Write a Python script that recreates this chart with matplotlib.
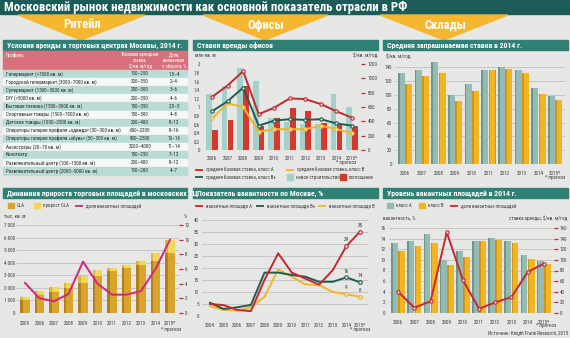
import matplotlib
matplotlib.use("Agg")
import matplotlib.pyplot as plt
from matplotlib import font_manager
from matplotlib.patches import Rectangle, Polygon
import numpy as np

W, H = 570, 338

_names = {f.name for f in font_manager.fontManager.ttflist}
NARROW = next((n for n in ["Liberation Sans Narrow", "Roboto Condensed", "Liberation Sans", "Roboto"]
               if n in _names), "DejaVu Sans")
plt.rcParams["font.family"] = [NARROW, "DejaVu Sans"]

# ---- data -------------------------------------------------------------
title = "Московский рынок недвижимости как основной показатель отрасли в РФ"
sections = ["Ритейл", "Офисы", "Склады"]

retail_profiles = [
    "Гипермаркет (>7000 кв. м)",
    "Городской гипермаркет (3000–7000 кв. м)",
    "Супермаркет (1500–3000 кв. м)",
    "DIY (>5000 кв. м)",
    "Бытовая техника (1500–3000 кв. м)",
    "Спортивные товары (1500–7000 кв. м)",
    "Детские товары (1000–2500 кв. м)",
    "Операторы галереи профиля «одежда» (50–300 кв. м)",
    "Операторы галереи профиля «обувь» (50–300 кв. м)",
    "Аксессуары (20–70 кв. м)",
    "Кинотеатр",
    "Развлекательный центр (100–1500 кв. м)",
    "Развлекательный центр (2000–5000 кв. м)",
]
retail_rates = ["100–250", "200–350", "250–300", "200–350", "150–350", "150–300", "200–400",
                "600–2200", "900–2500", "2200–4000", "150–250", "200–400", "100–200"]
retail_share = ["1,5–4", "2–4", "3–6", "4–6", "2,5–5", "4–8", "8–12",
                "8–16", "10–16", "11–14", "7–12", "8–12", "4–7"]

gla_years = ["2005", "2006", "2007", "2008", "2009", "2010", "2011", "2012", "2013", "2014", "2015*"]
gla_total = [1300, 1750, 2050, 2400, 2950, 3400, 3550, 3800, 4100, 4800, 5800]
gla_growth = [250, 350, 400, 400, 550, 450, 200, 250, 300, 650, 1000]
retail_vacancy = [4.1, 2.0, 1.6, 2.6, 7.0, 4.0, 2.5, 2.5, 3.0, 6.0, 10.0]

office_years = ["2006", "2007", "2008", "2009", "2010", "2011", "2012", "2013", "2014", "2015*"]
office_new = [1.3, 1.48, 1.9, 1.6, 0.74, 0.66, 0.6, 0.6, 1.3, 1.0]
office_absorb = [0.46, 0.7, 1.49, 0.56, 0.74, 0.97, 0.91, 0.62, 0.58, 0.55]
rate_a = [740, 900, 1100, 500, 590, 720, 710, 640, 540, 450]
rate_bplus = [540, 680, 870, 340, 410, 430, 420, 430, 370, 340]
rate_b = [440, 650, 600, 255, 290, 290, 290, 340, 290, 235]

vac_years = ["2004", "2005", "2006", "2007", "2008", "2009", "2010", "2011", "2012", "2013", "2014", "2015*"]
vac_a = [5, 4.5, 2.5, 2, 15, 26, 18, 15.5, 13, 19, 29, 35]
vac_bplus = [5.5, 2.9, 3.6, 4.6, 18, 18, 17, 16.3, 14.2, 14.2, 16, 14]
vac_b = [4.1, 2.5, 2.2, 3.6, 8, 19.3, 16.3, 13.1, 12.8, 10, 9, 8]

wh_years = ["2006", "2007", "2008", "2009", "2010", "2011", "2012", "2013", "2014", "2015*"]
wh_rate_a = [132, 136, 148, 100, 116, 136, 141, 136, 110, 98]
wh_rate_b = [116, 127, 132, 91, 106, 136, 138, 132, 101, 93]
wh_vacancy = [4.0, 1.0, 2.2, 15.2, 6.2, 0.8, 2.0, 3.0, 7.7, 9.3]

# ---- colours ----------------------------------------------------------
BG = "#e7e7e5"
DARK = "#1c5b56"
HEAD = "#2f8075"
BANNER = "#f5b730"
TXT = "#3c3c3c"
GRID = "#b9b9b9"
RED = "#c5282f"
TEAL_L = "#a3d0c9"
GREEN = "#1e5c50"
YEL = "#f2b527"
MAG = "#d3257f"
FS = 3.7  # small print

fig = plt.figure(figsize=(W / 100, H / 100), dpi=100)
fig.patch.set_facecolor(BG)
bg = fig.add_axes([0, 0, 1, 1])
bg.set_xlim(0, W)
bg.set_ylim(H, 0)
bg.set_autoscale_on(False)
bg.axis("off")


def px_axes(x0, y0, x1, y1):
    a = fig.add_axes([x0 / W, 1 - y1 / H, (x1 - x0) / W, (y1 - y0) / H])
    a.set_facecolor("none")
    for s in a.spines.values():
        s.set_visible(False)
    a.tick_params(labelsize=FS, colors=TXT, length=0, pad=2)
    return a


def right_ticks(a):
    a.tick_params(axis="y", right=True, length=3, width=0.9, color=RED, pad=1.5,
                  labelsize=FS, labelcolor=TXT)


def header(x, y, w, text):
    bg.add_patch(Rectangle((x, y), w, 10, color=HEAD))
    bg.text(x + 4, y + 5.2, text, color="white", fontsize=5.6, fontweight="bold", va="center")


def leg_line(x, y, color, label):
    bg.plot([x, x + 8], [y, y], color=color, lw=1.3, solid_capstyle="butt")
    bg.text(x + 11, y, label, fontsize=3.5, va="center", color=TXT)


def leg_box(x, y, color, label):
    bg.add_patch(Rectangle((x, y - 2.8), 6, 5.6, color=color))
    bg.text(x + 9, y, label, fontsize=3.5, va="center", color=TXT)


def small(x, y, s, ha="left"):
    bg.text(x, y, s, fontsize=FS, color=TXT, ha=ha, va="center")


# ---- title and banners ------------------------------------------------
bg.add_patch(Rectangle((0, 0), W, 14, color=DARK))
bg.text(4, 7.5, title, color="white", fontsize=9.2, fontweight="bold", va="center")
for name, (x0, xc, x1) in zip(sections, [(18, 81, 145), (203, 265, 328), (380, 444, 508)]):
    bg.add_patch(Polygon([(x0, 15), (x1, 15), (xc, 40)], color=BANNER))
    bg.text(xc + 1, 25, name, color="white", fontsize=9, fontweight="bold", ha="center", va="center")

# ---- retail table -----------------------------------------------------
header(3, 40, 184, "Условия аренды в торговых центрах Москвы, 2014 г.")
bg.add_patch(Rectangle((3, 51), 184, 19, color="#d9707b"))
bg.text(6, 55.5, "Профиль", color="white", fontsize=3.6, va="center")
bg.text(140, 60.5, "Базовая арендная\nставка,\n$/кв. м/год", color="white", fontsize=3.4,
        ha="center", va="center", linespacing=1.1)
bg.text(174, 60.5, "Доля,\nвзимаемая\nс оборота, %", color="white", fontsize=3.4,
        ha="center", va="center", linespacing=1.1)
rh = 8.1
for i, (p, r, s) in enumerate(zip(retail_profiles, retail_rates, retail_share)):
    y = 70 + i * rh
    bg.add_patch(Rectangle((3, y), 184, rh - 0.6, color="#b9dcd6" if i % 2 == 0 else "#f7f7f7"))
    bg.text(6, y + rh / 2 - 0.3, p, fontsize=3.7, color="#2a2a2a", va="center")
    bg.text(140, y + rh / 2 - 0.3, r, fontsize=3.7, color="#2a2a2a", va="center", ha="center")
    bg.text(174, y + rh / 2 - 0.3, s, fontsize=3.7, color="#2a2a2a", va="center", ha="center")

# ---- retail GLA chart -------------------------------------------------
header(3, 188, 184, "Динамика прироста торговых площадей в московских ТЦ")
leg_box(8, 205.5, "#d8a52a", "GLA")
leg_box(34, 205.5, "#f3d65b", "прирост GLA")
leg_line(75, 205.5, MAG, "доля вакантных площадей")
small(4, 217, "тыс. кв. м")
small(187, 217, "%", ha="right")

ax = px_axes(16.3, 225, 178.7, 313)
x = np.arange(len(gla_years))
base = np.array(gla_total) - np.array(gla_growth)
w, sw = 0.64, 0.16
ax.bar(x, base, width=w, color="#b0801c", zorder=2)
ax.bar(x, gla_growth, width=w, bottom=base, color="#d6b640", zorder=2)
ax.bar(x + sw / 2, base, width=w - sw, color="#d8a52a", zorder=3)
ax.bar(x + sw / 2, gla_growth, width=w - sw, bottom=base, color="#f3d65b", zorder=3)
ax.set_xlim(-0.6, len(x) - 0.4)
ax.set_ylim(0, 7000)
ax.set_yticks(range(0, 7001, 1000))
ax.set_yticklabels([f"{v:,}".replace(",", " ") for v in range(0, 7001, 1000)])
ax.tick_params(axis="y", pad=1)
ax.set_xticks(x)
ax.set_xticklabels(gla_years)
ax.tick_params(axis="x", pad=6)
ax.grid(axis="y", color=GRID, lw=0.5)
ax.set_axisbelow(True)
tw = ax.twinx()
for s in tw.spines.values():
    s.set_visible(False)
tw.plot(x, retail_vacancy, color=MAG, lw=1.4, zorder=4)
tw.set_ylim(0, 12)
tw.set_yticks(range(0, 13, 2))
right_ticks(tw)
small(171, 329.5, "* прогноз", ha="center")

# ---- office rates chart -----------------------------------------------
header(193, 40, 185, "Ставки аренды офисов")
small(195, 55.5, "млн кв. м")
small(377, 55.5, "$/кв. м/год", ha="right")
ax = px_axes(202.7, 64, 361.3, 150)
x = np.arange(len(office_years))
ax.bar(x - 0.19, office_new, width=0.36, color=TEAL_L, zorder=2)
ax.bar(x + 0.19, office_absorb, width=0.36, color="#d5392e", zorder=2)
ax.set_xlim(-0.6, len(x) - 0.4)
ax.set_ylim(0, 2)
yt = np.round(np.arange(0, 2.01, 0.2), 1)
ax.set_yticks(yt)
ax.set_yticklabels([("%g" % v).replace(".", ",") for v in yt])
ax.set_xticks(x)
ax.set_xticklabels(office_years)
ax.tick_params(axis="x", pad=4)
tw = ax.twinx()
for s in tw.spines.values():
    s.set_visible(False)
for vals, col in [(rate_a, RED), (rate_b, YEL), (rate_bplus, GREEN)]:
    tw.plot(x, vals, color=col, lw=1.4, marker="o", ms=2.4, mfc=BG, mew=0.8, zorder=4)
tw.set_ylim(0, 1200)
tw.set_yticks(range(0, 1201, 200))
right_ticks(tw)
small(346, 162.5, "* прогноз", ha="center")
leg_line(195, 169.5, RED, "средняя базовая ставка, класс А")
leg_line(286, 169.5, YEL, "средняя базовая ставка, класс В")
leg_line(195, 177, GREEN, "средняя базовая ставка, класс В+")
leg_box(287, 177, TEAL_L, "новое строительство")
leg_box(340, 177, "#d5392e", "поглощение")

# ---- office vacancy chart ---------------------------------------------
header(193, 188, 185, "Показатель вакантности по Москве, %")
leg_line(195, 205.5, RED, "вакантные площади А")
leg_line(256, 205.5, GREEN, "вакантные площади В+")
leg_line(318, 205.5, YEL, "вакантные площади В")
ax = px_axes(201.8, 219.6, 368.2, 316)
x = np.arange(len(vac_years))
for vals, col in [(vac_b, YEL), (vac_bplus, GREEN), (vac_a, RED)]:
    ax.plot(x, vals, color=col, lw=1.4, zorder=3)
    ax.plot(x[-2:], vals[-2:], ls="none", marker="o", ms=2.6, mfc=BG, mec=col, mew=0.8, zorder=4)
    for xi, v in zip(x[-2:], vals[-2:]):
        ax.annotate(f"{v:g}", (xi, v), xytext=(0, 3.5), textcoords="offset points",
                    fontsize=3.8, color=TXT, ha="center")
ax.set_xlim(-0.6, len(x) - 0.4)
ax.set_ylim(0, 40)
ax.set_yticks(range(0, 41, 5))
ax.set_xticks(x)
ax.set_xticklabels(vac_years)
ax.tick_params(axis="x", pad=5)
ax.grid(axis="y", color=GRID, lw=0.5)
ax.set_axisbelow(True)
small(360, 329.5, "* прогноз", ha="center")

# ---- warehouse rates chart --------------------------------------------
header(383, 40, 185, "Средняя запрашиваемая ставка в 2014 г.")
small(386, 56.5, "$/кв. м/год")


def wh_bars(a, xs, va, vb):
    bw, s = 0.42, 0.1
    a.bar(xs - 0.22, va, width=bw, color="#6e968f", zorder=2)
    a.bar(xs - 0.22 + s / 2, va, width=bw - s, color="#94bab4", zorder=3)
    a.bar(xs + 0.22, vb, width=bw, color="#cf9516", zorder=2)
    a.bar(xs + 0.22 + s / 2, vb, width=bw - s, color="#f2b420", zorder=3)


ax = px_axes(395, 60.5, 565, 164)
x = np.arange(len(wh_years))
wh_bars(ax, x, wh_rate_a, wh_rate_b)
ax.set_xlim(-0.6, len(x) - 0.4)
ax.set_ylim(0, 150)
ax.set_yticks(range(0, 141, 20))
ax.set_xticks(x)
ax.set_xticklabels(wh_years)
ax.tick_params(axis="x", pad=5)
ax.grid(axis="y", color=GRID, lw=0.5)
ax.set_axisbelow(True)
small(555, 177.5, "* прогноз", ha="center")

# ---- warehouse vacancy chart ------------------------------------------
header(383, 188, 185, "Уровень вакантных площадей в 2014 г.")
leg_box(387, 205.5, "#94bab4", "класс А")
leg_box(419, 205.5, "#f2b420", "класс В")
leg_line(450, 205.5, RED, "доля вакантных площадей")
small(383, 218, "вакантность, %")
small(567, 218, "ставка аренды, $/кв. м/год", ha="right")
ax = px_axes(388.5, 228, 553.5, 313)
x = np.arange(len(wh_years))
wh_bars(ax, x, wh_rate_a, wh_rate_b)
ax.set_xlim(-0.6, len(x) - 0.4)
ax.set_ylim(0, 160)
ax.set_yticks(range(0, 161, 20))
ax.set_xticks(x)
ax.set_xticklabels(wh_years)
ax.tick_params(axis="x", pad=5)
ax.grid(axis="y", color=GRID, lw=0.5)
ax.set_axisbelow(True)
tw = ax.twinx()
for s in tw.spines.values():
    s.set_visible(False)
# rent bars read on the right, vacancy line on the left
ax.yaxis.tick_right()
right_ticks(ax)
tw.yaxis.tick_left()
tw.tick_params(labelsize=FS, colors=TXT, length=0, pad=2)
tw.plot(x, wh_vacancy, color=RED, lw=1.4, marker="o", ms=2.4, mfc=BG, mew=0.8, zorder=4)
tw.set_ylim(0, 16)
tw.set_yticks(range(0, 17, 2))
small(546, 326, "* прогноз", ha="center")
small(568, 333.5, "Источник: Knight Frank Research, 2015", ha="right")

fig.savefig("out.png", dpi=100, facecolor=fig.get_facecolor())
